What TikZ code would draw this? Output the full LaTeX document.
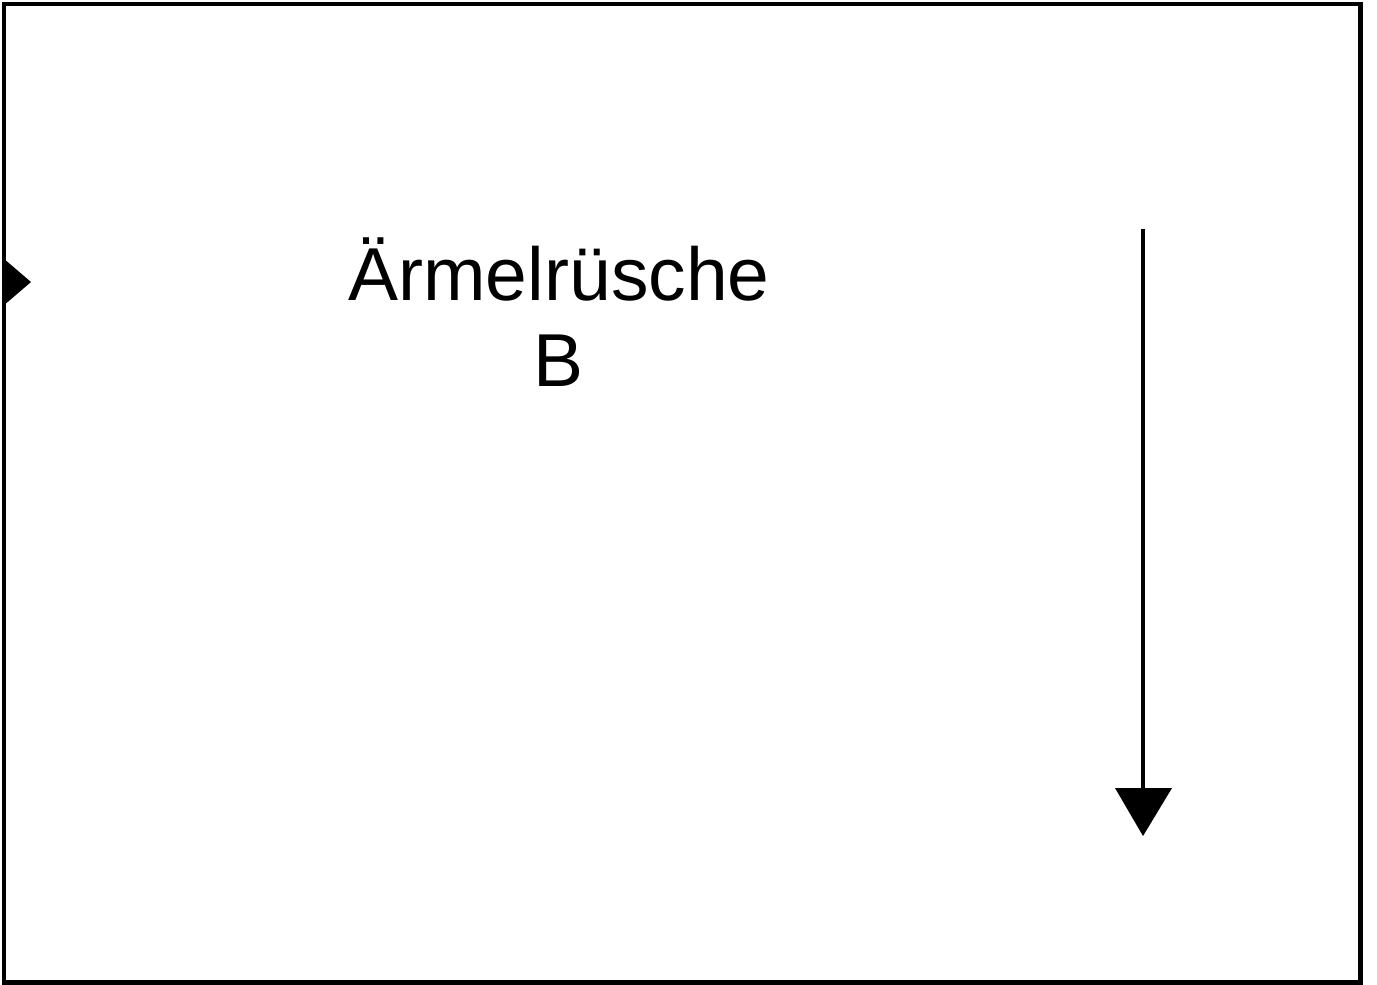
\documentclass[tikz,border=0pt]{standalone}
\usepackage{fontspec}
\setmainfont{Liberation Sans}
\begin{document}
\begin{tikzpicture}[x=1pt,y=-1pt,
  frame/.style={draw=black,line width=4.5pt},
  marker/.style={fill=black,draw=none},
  label/.style={align=center,font=\fontsize{75}{86}\selectfont,inner sep=0pt}]
\useasboundingbox (0,0) rectangle (1377,985);
\draw[frame] (4,4) rectangle (1360.5,982.5);
\fill[marker] (3,258) -- (31,282) -- (3,306) -- cycle;
\node[label,anchor=base] (t) at (559,386) {Ärmelrüsche\\B};
\coordinate (a1) at (1143,229);
\coordinate (a2) at (1143,790);
\draw[line width=4.5pt] (a1) -- (a2);
\fill[marker] (1115,788) -- (1172,788) -- (1143,836) -- cycle;
\end{tikzpicture}
\end{document}
